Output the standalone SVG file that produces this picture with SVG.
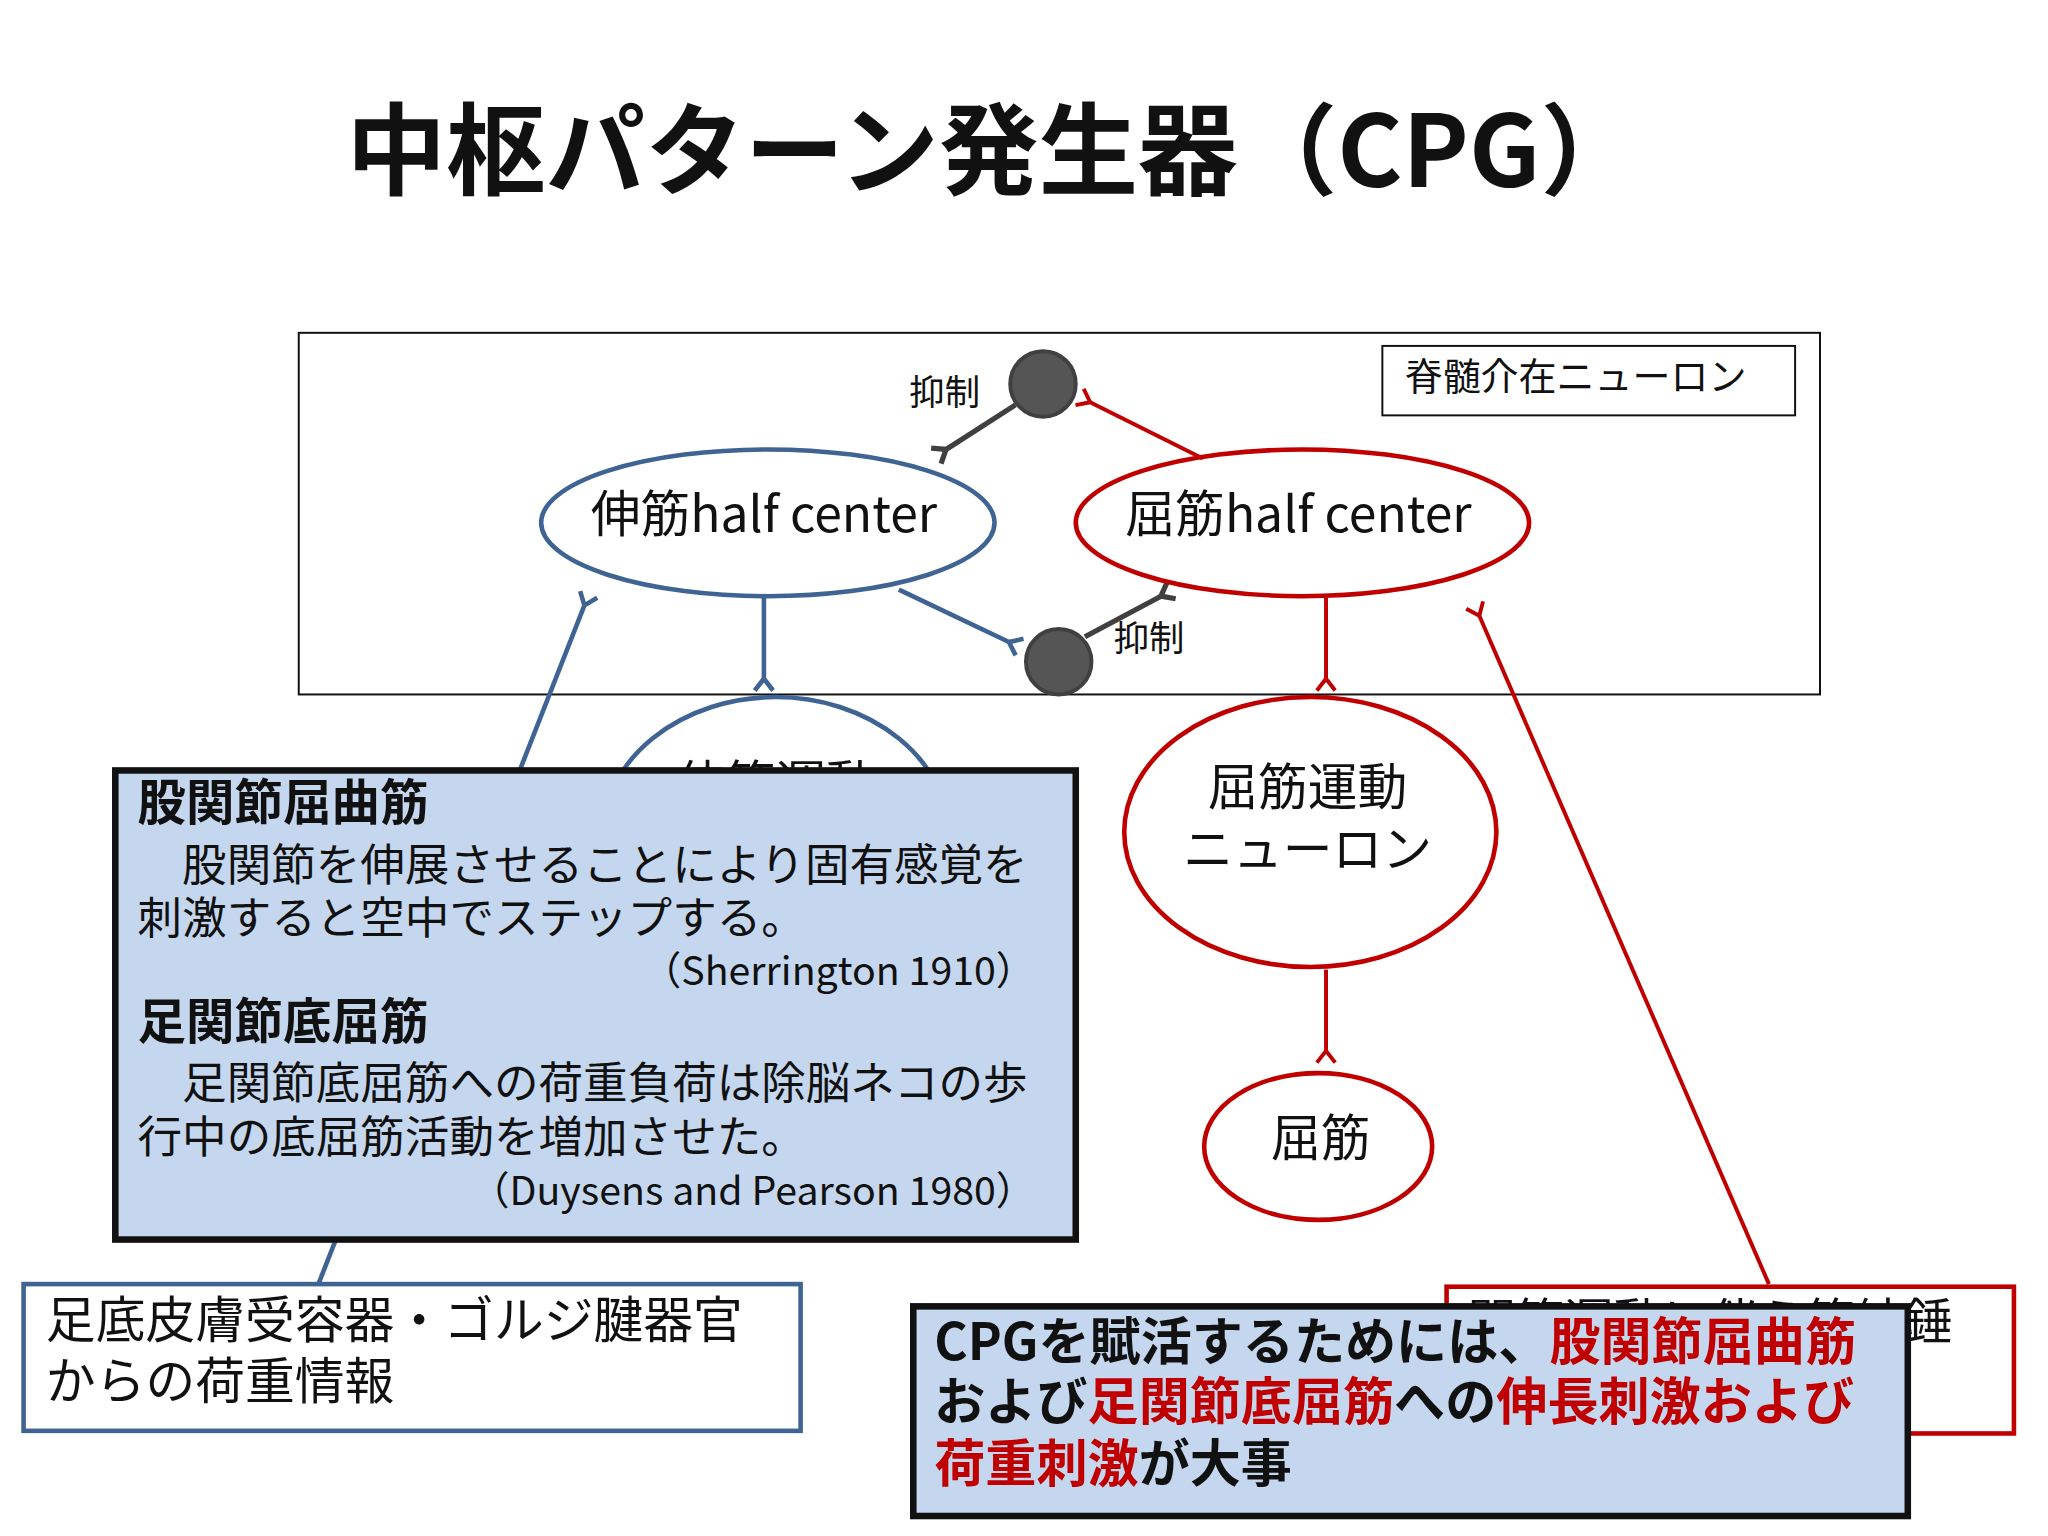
<svg xmlns="http://www.w3.org/2000/svg" width="2048" height="1536" viewBox="0 0 2048 1536">
<style>
text{font-family:"Noto Sans CJK JP","Noto Sans",sans-serif;fill:#111}
.b{font-weight:bold}
.r{fill:#c00000}
.bl{fill:none;stroke:#3f6493;stroke-width:3.5}
.rd{fill:none;stroke:#c00000;stroke-width:3.5}
.gy{fill:none;stroke:#404040;stroke-width:4}
.blue{stroke:#3f6493;stroke-width:3.5;fill:none}
.red{stroke:#c00000;stroke-width:3;fill:none}
</style>
<defs>
<marker id="fb" markerUnits="userSpaceOnUse" markerWidth="20" markerHeight="20" viewBox="-2 -10 20 20" refX="0" refY="0" orient="auto" overflow="visible"><path d="M0,0 L9,-7 M0,0 L9,7" stroke="#3f6493" stroke-width="3.5" fill="none"/></marker>
<marker id="fr" markerUnits="userSpaceOnUse" markerWidth="20" markerHeight="20" viewBox="-2 -10 20 20" refX="0" refY="0" orient="auto" overflow="visible"><path d="M0,0 L9,-7 M0,0 L9,7" stroke="#c00000" stroke-width="3" fill="none"/></marker>
<marker id="fg" markerUnits="userSpaceOnUse" markerWidth="20" markerHeight="20" viewBox="-2 -10 20 20" refX="0" refY="0" orient="auto" overflow="visible"><path d="M0,0 L9,-7 M0,0 L9,7" stroke="#404040" stroke-width="4" fill="none"/></marker>
</defs>
<rect width="2048" height="1536" fill="#fff"/>
<g transform="scale(1.3103)">
<text x="758" y="143" font-size="76" class="b" text-anchor="middle">中枢パターン発生器（CPG）</text>
<rect x="228" y="254" width="1161" height="276" fill="none" stroke="#111" stroke-width="1.5"/>
<g id="label-interneuron"><rect x="1055" y="264" width="315" height="53" fill="#fff" stroke="#111" stroke-width="1.5"/><text x="1072" y="298" font-size="29">脊髄介在ニューロン</text></g>

<g id="connectors">
<line x1="775" y1="309" x2="722" y2="343" class="gy" marker-end="url(#fg)"/>
<line x1="918" y1="350" x2="832" y2="307" class="red" marker-end="url(#fr)"/>
<line x1="828" y1="486" x2="886" y2="455" class="gy" marker-end="url(#fg)"/>
<line x1="686" y1="450" x2="770" y2="490" class="blue" marker-end="url(#fb)"/>
<line x1="583" y1="456" x2="583" y2="518" class="blue" marker-end="url(#fb)"/>
<line x1="1012" y1="456" x2="1012" y2="518" class="red" marker-end="url(#fr)"/>
<line x1="243" y1="980" x2="446" y2="462" class="blue" marker-end="url(#fb)"/>
<line x1="1350" y1="980" x2="1129" y2="470" class="red" marker-end="url(#fr)"/>
<line x1="1012" y1="740" x2="1012" y2="802" class="red" marker-end="url(#fr)"/>
</g>

<text x="748" y="309" font-size="27" text-anchor="end">抑制</text>
<text x="850" y="497" font-size="27">抑制</text>

<g id="inh-top"><circle cx="796" cy="293" r="25" fill="#555" stroke="#404040" stroke-width="3"/></g>
<g id="inh-bottom"><circle cx="808" cy="505" r="25" fill="#555" stroke="#404040" stroke-width="3"/></g>

<g id="ext-half"><ellipse cx="586" cy="399" rx="173" ry="56" fill="#fff" class="bl"/><text x="583" y="396" font-size="38" text-anchor="middle" dominant-baseline="middle">伸筋half center</text></g>
<g id="flx-half"><ellipse cx="994" cy="399" rx="173" ry="56" fill="#fff" class="rd"/><text x="991" y="396" font-size="38" text-anchor="middle" dominant-baseline="middle">屈筋half center</text></g>

<g id="ext-motor"><ellipse cx="592" cy="640" rx="133" ry="108" fill="#fff" class="bl"/><text x="592" y="612" font-size="38" text-anchor="middle">伸筋運動</text><text x="592" y="660" font-size="38" text-anchor="middle">ニューロン</text></g>
<g id="flx-motor"><ellipse cx="1000" cy="635" rx="142" ry="103" fill="#fff" class="rd"/><text x="998" y="614" font-size="38" text-anchor="middle">屈筋運動</text><text x="998" y="662" font-size="38" text-anchor="middle">ニューロン</text></g>
<g id="flexor"><ellipse cx="1006" cy="875" rx="87" ry="56" fill="#fff" class="rd"/><text x="1008" y="872" font-size="38" text-anchor="middle" dominant-baseline="middle">屈筋</text></g>

<g id="info-box">
<rect x="88" y="588" width="733" height="358" fill="#c5d7ee" stroke="#111" stroke-width="5"/>
<text x="105" y="626" font-size="37" class="b">股関節屈曲筋</text>
<text x="105" y="672" font-size="34">　股関節を伸展させることにより固有感覚を</text>
<text x="105" y="713" font-size="34">刺激すると空中でステップする。</text>
<text x="790" y="752" font-size="30" text-anchor="end">（Sherrington 1910）</text>
<text x="105" y="793" font-size="37" class="b">足関節底屈筋</text>
<text x="105" y="839" font-size="34">　足関節底屈筋への荷重負荷は除脳ネコの歩</text>
<text x="105" y="880" font-size="34">行中の底屈筋活動を増加させた。</text>
<text x="790" y="920" font-size="30" text-anchor="end">（Duysens and Pearson 1980）</text>
</g>

<g id="load-info"><rect x="18" y="980" width="593" height="112" fill="#fff" class="bl"/><text x="35" y="1021" font-size="38">足底皮膚受容器・ゴルジ腱器官</text><text x="35" y="1068" font-size="38">からの荷重情報</text></g>
<g id="spindle-info"><rect x="1104" y="982" width="433" height="112" fill="#fff" class="rd"/><text x="1120" y="1022" font-size="37">関節運動に伴う筋紡錘</text></g>

<g id="summary">
<rect x="697" y="997" width="759" height="160" fill="#c5d7ee" stroke="#111" stroke-width="5"/>
<text x="713" y="1038" font-size="39" class="b">CPGを賦活するためには、<tspan class="r">股関節屈曲筋</tspan></text>
<text x="713" y="1084" font-size="39" class="b">および<tspan class="r">足関節底屈筋</tspan>への<tspan class="r">伸長刺激および</tspan></text>
<text x="713" y="1131" font-size="39" class="b"><tspan class="r">荷重刺激</tspan>が大事</text>
</g>
</g>
</svg>
